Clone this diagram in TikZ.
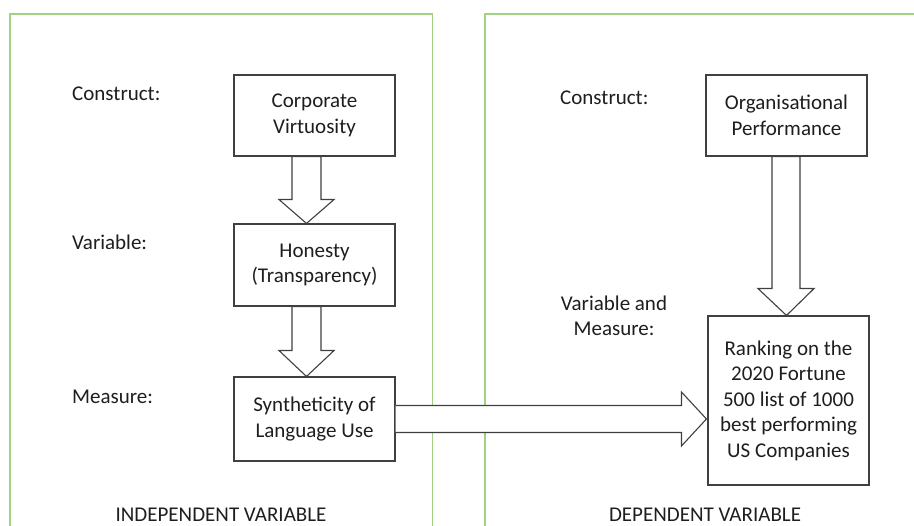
\documentclass[tikz,border=0pt]{standalone}
\usepackage{fontspec}
\setmainfont{Carlito}
\usetikzlibrary{calc}
\definecolor{panelgreen}{RGB}{160,210,130}
\definecolor{linegray}{RGB}{64,64,64}
\definecolor{txt}{RGB}{30,30,30}
\tikzset{
  panel/.style={draw=panelgreen, line width=1.3pt},
  box/.style={draw=linegray, line width=1.1pt, fill=white, align=center, text=txt, inner sep=0pt, font=\fontsize{21}{25.5}\selectfont},
  lbl/.style={text=txt, inner sep=0pt, font=\fontsize{21}{25.5}\selectfont},
  blockarrow/.style={draw=linegray, line width=1.1pt, fill=white, line join=miter},
}
\begin{document}
\begin{tikzpicture}[x=1pt,y=-1pt]
\useasboundingbox (0,0) rectangle (914,526);
\clip (0,0) rectangle (914,526);
\fill[white] (0,0) rectangle (914,526);
% panels
\draw[panel] (10,533) -- (10,14) -- (432.5,14) -- (432.5,533);
\draw[panel] (485,533) -- (485,14) -- (920,14);

% boxes
\node[box, minimum width=161pt, minimum height=81pt] (cv) at (314.5,115.5) {Corporate\\Virtuosity};
\node[box, minimum width=161pt, minimum height=82pt] (hon) at (314.5,265) {Honesty\\(Transparency)};
\node[box, minimum width=161pt, minimum height=84pt] (syn) at (314.5,419) {Syntheticity of\\Language Use};
\node[box, minimum width=161pt, minimum height=81pt] (op) at (786.5,115.5) {Organisational\\Performance};
\node[box, minimum width=161pt, minimum height=169pt] (rk) at (788.5,400.5) {Ranking on the\\2020 Fortune\\500 list of 1000\\best performing\\US Companies};

% labels
\node[lbl, anchor=west] (l1) at (72,94) {Construct:};
\node[lbl, anchor=west] (l2) at (72,242) {Variable:};
\node[lbl, anchor=west] (l3) at (72,397) {Measure:};
\node[lbl, anchor=west] (r1) at (560,98) {Construct:};
\node[lbl, align=center] (r2) at (614,316) {Variable and\\Measure:};
\node[lbl] (iv) at (221,515) {INDEPENDENT VARIABLE};
\node[lbl] (dv) at (705,515) {DEPENDENT VARIABLE};

% block arrows (vertical, left column; offset left of box centre as in reference)
\draw[blockarrow]
  ($(cv.south)+(-22.5,0)$) -- ($(cv.south)+(6.5,0)$) -- ($(cv.south)+(6.5,43)$)
  -- ($(cv.south)+(19.5,43)$) -- ($(hon.north)+(-8,0)$) -- ($(cv.south)+(-35.5,43)$)
  -- ($(cv.south)+(-22.5,43)$) -- cycle;
\draw[blockarrow]
  ($(hon.south)+(-22.5,0)$) -- ($(hon.south)+(6.5,0)$) -- ($(hon.south)+(6.5,44)$)
  -- ($(hon.south)+(19.5,44)$) -- ($(syn.north)+(-8,0)$) -- ($(hon.south)+(-35.5,44)$)
  -- ($(hon.south)+(-22.5,44)$) -- cycle;
% right vertical arrow
\draw[blockarrow]
  ($(op.south)+(-14.5,0)$) -- ($(op.south)+(13.5,0)$) -- ($(op.south)+(13.5,132)$)
  -- ($(op.south)+(27.5,132)$) -- (rk.north -| op.south) -- ($(op.south)+(-28.5,132)$)
  -- ($(op.south)+(-14.5,132)$) -- cycle;
% horizontal arrow
\coordinate (tip) at (rk.west |- syn.east);
\draw[blockarrow]
  ($(syn.east)+(0,-13.5)$) -- ($(tip)+(-26,-13.5)$) -- ($(tip)+(-26,-27)$)
  -- ($(tip)+(-1,0)$) -- ($(tip)+(-26,27)$) -- ($(tip)+(-26,13.5)$)
  -- ($(syn.east)+(0,13.5)$);
\end{tikzpicture}
\end{document}
